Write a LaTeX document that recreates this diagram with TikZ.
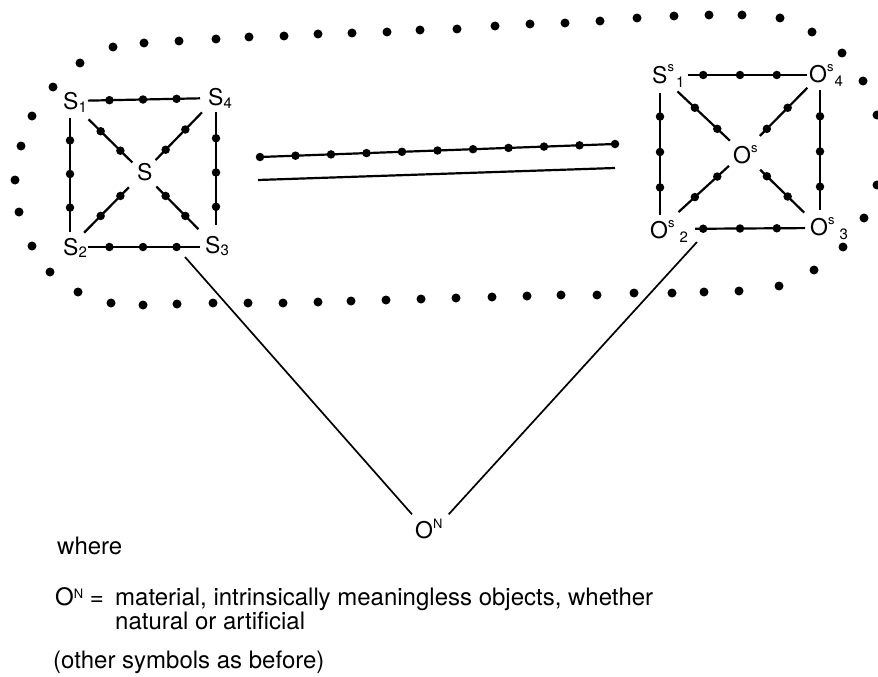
\documentclass[tikz,border=0pt]{standalone}
\usepackage{fontspec}
\setmainfont{TeX Gyre Heros}
\usetikzlibrary{calc}
\newcommand\lsub[1]{\raisebox{-2pt}{\fontsize{15}{15}\selectfont #1}}
\newcommand\rsup[1]{\raisebox{11pt}{\fontsize{13}{13}\selectfont #1}}
\newcommand\rsub[1]{\raisebox{-4pt}{\fontsize{15}{15}\selectfont #1}}
\newcommand\nsup[1]{\raisebox{10pt}{\fontsize{13}{13}\selectfont #1}}
\newcommand\tsup[1]{\raisebox{7pt}{\fontsize{13}{13}\selectfont #1}}
\newcommand\sideedge[4]{\draw[ln,shorten <=#3pt,shorten >=#4pt] (#1) -- (#2)
  node[bead,pos=.27]{} node[bead,pos=.5]{} node[bead,pos=.73]{};}
\newcommand\diagedge[4]{\draw[ln,shorten <=#3pt,shorten >=#4pt] (#1) -- (#2)
  node[bead,pos=.42]{} node[bead,pos=.69]{};}
\begin{document}
\begin{tikzpicture}[x=1pt,y=-1pt,
  ln/.style={line width=2.2pt},
  thinln/.style={line width=1.7pt},
  bead/.style={circle,fill=black,inner sep=0pt,minimum size=8.5pt},
  odot/.style={circle,fill=black,inner sep=0pt,minimum size=9pt},
  lbl/.style={inner sep=0pt,anchor=base west,font=\fontsize{23}{23}\selectfont},
  txt/.style={inner sep=0pt,anchor=base west,font=\fontsize{24}{22}\selectfont}]

\fill[white] (0,0) rectangle (878,677);
\useasboundingbox (0,0) rectangle (878,677);

% ---- dotted outline ----
\foreach \x/\y [count=\i] in {15/180,21/146,32/116,53/87,80/63,113/47,144/43,179/41,216/39,
  249/37,284/36,318/34,352/33,387/32,420/30,457/29,495/26,530/24,565/23,600/21,637/18,
  674/16,709/15,742/15,780/18,812/32,842/53,863/81,877/115,877/185,864/218,843/247,
  814/270,779/286,739/291,704/292,672/293,634/293,597/295,561/295,527/296,492/297,
  456/298,421/299,386/300,351/301,318/302,283/303,248/303,213/303,177/304,143/305,
  111/303,78/292,50/272,32/246,19/212}
  \node[odot] (d\i) at (\x,\y) {};

% ---- left square ----
\coordinate (S1c) at (70,101);
\coordinate (S4c) at (216,98);
\coordinate (S2c) at (70,247);
\coordinate (S3c) at (216,247);
\coordinate (Sc)  at (143,173);
\node[lbl] (S1) at (63,110) {S\lsub{1}};
\node[lbl] (S4) at (208,106) {S\lsub{4}};
\node[lbl] (S2) at (63,255) {S\lsub{2}};
\node[lbl] (S3) at (205,253) {S\lsub{3}};
\node[lbl] (S)  at (137,180) {S};
\sideedge{S1c}{S4c}{18}{16}
\sideedge{S1c}{S2c}{17}{15}
\sideedge{S4c}{S3c}{14}{22}
\sideedge{S2c}{S3c}{18}{16}
\diagedge{S1c}{Sc}{26}{15}
\diagedge{S4c}{Sc}{20}{18}
\diagedge{S2c}{Sc}{20}{20}
\diagedge{S3c}{Sc}{25}{19}

% ---- right square ----
\coordinate (A1) at (660,75);
\coordinate (A4) at (820,75);
\coordinate (A2) at (660,229);
\coordinate (A3) at (820,228);
\coordinate (Oc) at (743,153);
\node[lbl] (SS1) at (652,83) {S\rsup{s}\hspace{2pt}\rsub{1}};
\node[lbl] (OS4) at (809,82) {O\rsup{s}\hspace{1pt}\rsub{4}};
\node[lbl] (OS)  at (733,163) {O\rsup{s}};
\node[lbl] (OS2) at (650,238) {O\rsup{s}\hspace{5pt}\rsub{2}};
\node[lbl] (OS3) at (810,235) {O\rsup{s}\hspace{5pt}\rsub{3}};
\sideedge{A1}{A4}{28}{13}
\sideedge{A2}{A3}{35}{15}
\sideedge{A1}{A2}{18}{14}
\sideedge{A4}{A3}{15}{18}
\diagedge{A1}{Oc}{24}{18}
\diagedge{A4}{Oc}{18}{24}
\diagedge{A2}{Oc}{25}{19}
\diagedge{A3}{Oc}{22}{24}

% ---- middle double line ----
\coordinate (M1) at (260,157);
\coordinate (M2) at (615,144);
\coordinate (M3) at (258,180);
\coordinate (M4) at (615,168);
\draw[ln] (M1) -- (M2);
\foreach \k in {0,...,10}
  \node[bead] (mb\k) at ($(M1)!\k/10!(M2)$) {};
\draw[ln] (M3) -- (M4);

% ---- O^N and its connectors ----
\node[lbl] (ON) at (415,538) {O\nsup{N}};
\coordinate (L1) at (185,257);
\coordinate (R1) at (697,242);
\draw[thinln] (L1) -- ([shift={(-3,-4)}]ON.north west);
\draw[thinln] (R1) -- ([shift={(6,-4)}]ON.north east);

% ---- legend ----
\node[txt] (where) at (57,554) {where};
\node[txt,align=left] (def) at (55,629)
  {\makebox[60pt][l]{O\tsup{N} =}material, intrinsically meaningless objects, whether\\
   \hspace*{60pt}natural or artificial};
\node[txt] (other) at (53,668) {(other symbols as before)};
\end{tikzpicture}
\end{document}
